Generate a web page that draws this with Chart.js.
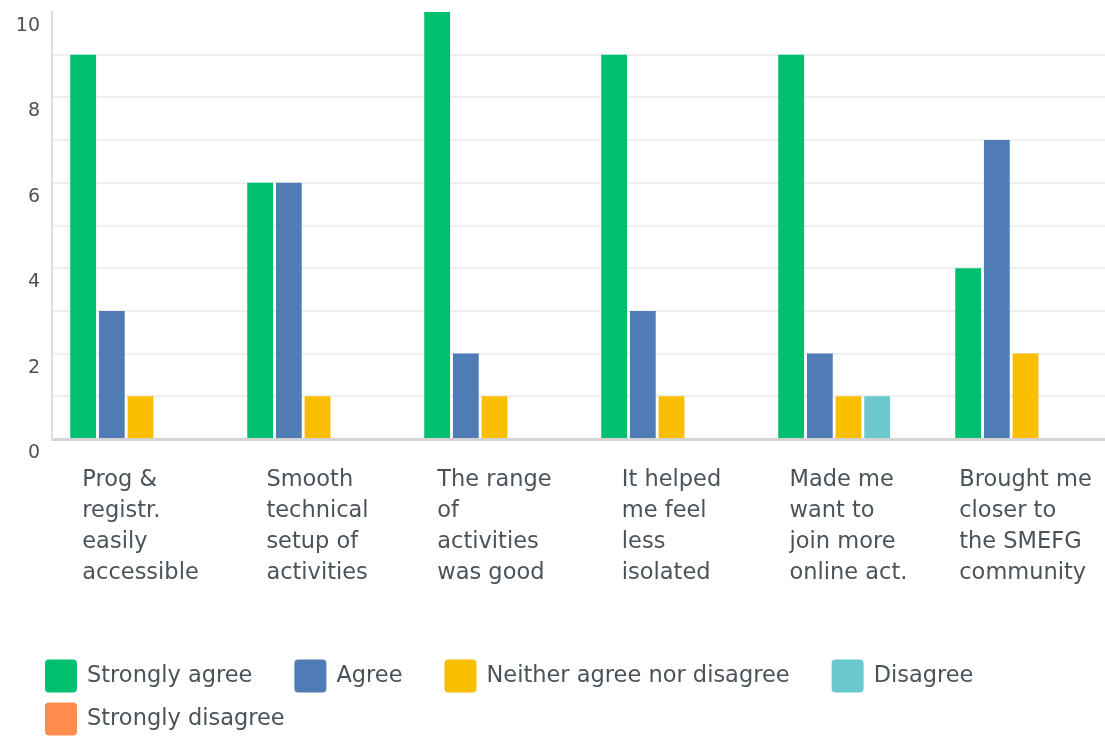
<!DOCTYPE html>
<html>
<head>
<meta charset="utf-8">
<script src="https://cdn.jsdelivr.net/npm/chart.js@4.4.1/dist/chart.umd.min.js"></script>
<style>
  html, body { margin: 0; padding: 0; background: #fff; overflow: hidden; }
  canvas { display: block; }
</style>
</head>
<body>
<canvas id="chart" width="1114" height="737"></canvas>
<script>
// categories (multi-line labels)
const categories = [
  ['Prog &', 'registr.', 'easily', 'accessible'],
  ['Smooth', 'technical', 'setup of', 'activities'],
  ['The range', 'of', 'activities', 'was good'],
  ['It helped', 'me feel', 'less', 'isolated'],
  ['Made me', 'want to', 'join more', 'online act.'],
  ['Brought me', 'closer to', 'the SMEFG', 'community'],
];

const seriesNames = ['Strongly agree', 'Agree', 'Neither agree nor disagree', 'Disagree', 'Strongly disagree'];
const seriesColors = ['#00bf6f', '#507cb6', '#f9be00', '#6bc8cd', '#ff8b4f'];

const stronglyAgree = [9, 6, 10, 9, 9, 4];
const agree = [3, 6, 2, 3, 2, 7];
const neither = [1, 1, 1, 1, 1, 2];
const disagree = [0, 0, 0, 0, 1, 0];
const stronglyDisagree = [0, 0, 0, 0, 0, 0];

const yTicks = [0, 2, 4, 6, 8, 10];

const FONT = '"DejaVu Sans", "Open Sans", sans-serif';
const TEXT = '#4b535a';

// x labels (left-aligned block centred under each group) + legend
const labelsAndLegend = {
  id: 'labelsAndLegend',
  afterDraw(chart) {
    const ctx = chart.ctx;
    const xs = chart.scales.x;
    const area = chart.chartArea;
    ctx.save();
    ctx.textBaseline = 'middle';
    ctx.textAlign = 'left';

    ctx.font = '22.5px ' + FONT;
    ctx.fillStyle = TEXT;
    categories.forEach((lines, i) => {
      const w = Math.max(...lines.map((l) => ctx.measureText(l).width));
      const cx = xs.getPixelForValue(i);
      lines.forEach((l, j) => ctx.fillText(l, cx - w / 2, area.bottom + 41 + j * 31));
    });

    ctx.font = '22.5px ' + FONT;
    let lx = 45;
    let ly = 676;
    chart.data.datasets.forEach((ds) => {
      const tw = ctx.measureText(ds.label).width;
      if (lx + 42 + tw > chart.width) { lx = 45; ly += 43; }
      ctx.fillStyle = ds.backgroundColor;
      ctx.beginPath();
      ctx.roundRect(lx, ly - 16.5, 32, 33, 4);
      ctx.fill();
      ctx.fillStyle = TEXT;
      ctx.fillText(ds.label, lx + 42, ly);
      lx += 42 + tw + 42;
    });
    ctx.restore();
  },
};

const values = [stronglyAgree, agree, neither, disagree, stronglyDisagree];

new Chart(document.getElementById('chart'), {
  type: 'bar',
  data: {
    labels: categories.map((c) => c.join(' ')),
    datasets: seriesNames.map((name, i) => ({
      label: name,
      data: values[i],
      backgroundColor: seriesColors[i],
      borderWidth: 0,
      categoryPercentage: 0.81,
      barPercentage: 0.9,
    })),
  },
  options: {
    responsive: false,
    animation: false,
    layout: { padding: { top: 12, right: 0, left: 0, bottom: 0 } },
    plugins: {
      legend: { display: false },
      tooltip: { enabled: false },
    },
    scales: {
      x: {
        grid: { display: false },
        border: { color: '#d3d3d3', width: 3 },
        ticks: { display: false },
        afterFit: (s) => { s.height = 298; },
      },
      y: {
        min: 0,
        max: 10,
        grid: {
          drawTicks: false,
          lineWidth: 2,
          color: (c) => (c.tick && c.tick.value === 10 ? 'rgba(0,0,0,0)' : '#efefef'),
        },
        border: { color: '#dedede', width: 2 },
        ticks: {
          stepSize: 1,
          padding: 12,
          labelOffset: 14,
          color: TEXT,
          font: { family: FONT, size: 19 },
          callback: (v) => (yTicks.includes(v) ? v : ''),
        },
        afterFit: (s) => {
          s.width = 52;
          s.paddingTop = 0;
          s.paddingBottom = 0;
        },
      },
    },
  },
  plugins: [labelsAndLegend],
});
</script>
</body>
</html>
